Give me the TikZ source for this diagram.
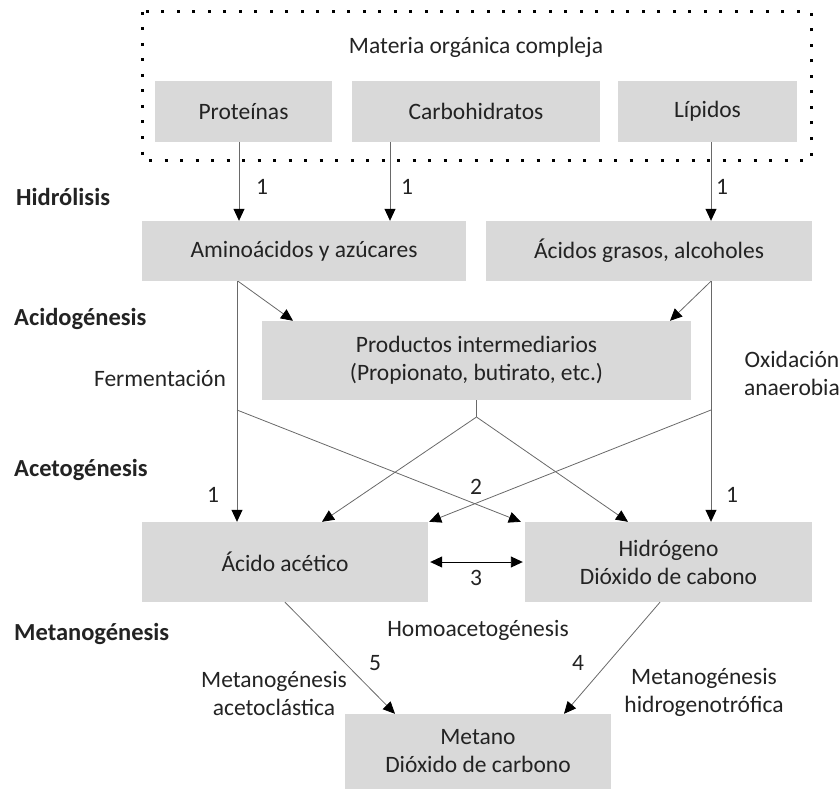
\documentclass[tikz,border=0pt]{standalone}
\usepackage{fontspec}
\setmainfont{Carlito}
\usepackage{xcolor}
\usepackage{tikz}
\usetikzlibrary{arrows.meta}
\usetikzlibrary{positioning}
\definecolor{cajagris}{RGB}{217,217,217}
\definecolor{gristrazo}{RGB}{105,105,105}
\definecolor{texto}{RGB}{35,35,35}

\begin{document}
\begin{tikzpicture}[x=1pt, y=-1pt,
		every node/.style={text=texto, inner sep=0pt, font=\fontsize{23.5}{28}\selectfont},
		caja/.style={fill=cajagris, align=center, minimum height=61},
		etapa/.style={anchor=west, font=\fontsize{24.5}{28}\selectfont\bfseries},
		trazo/.style={draw=gristrazo, line width=0.8pt},
		flecha/.style={draw=gristrazo, line width=0.8pt, -{Triangle[length=12pt, width=11pt, black]}},
		puntos/.style={line width=3pt, dash pattern=on 3pt off 12.5pt}]
	\useasboundingbox (0,0) rectangle (840,789);
	\draw[puntos] (142,12) rectangle (811,160);
	\node (materia) at (476,47) {Materia orgánica compleja};
	\node[caja, minimum width=177] (prot) at (243.5,111.5) {Proteínas};
	\node[caja, minimum width=248] (carb) at (476,111.5) {Carbohidratos};
	\node[caja, minimum width=179] (lip) at (707.5,111.5) {Lípidos};
	\node[caja, minimum width=324, minimum height=60] (amino) at (304,251) {Aminoácidos y azúcares};
	\node[caja, minimum width=326, minimum height=60] (grasos) at (649,251) {Ácidos grasos, alcoholes};
	\node[caja, minimum width=429, minimum height=79] (prod) at (476.5,360.5) {Productos intermediarios\\(Propionato, butirato, etc.)};
	\node[caja, minimum width=286, minimum height=80] (acet) at (285,562) {Ácido acético};
	\node[caja, minimum width=287, minimum height=80] (hidr) at (668.5,562) {Hidrógeno\\Dióxido de cabono};
	\node[caja, minimum width=266, minimum height=75] (metano) at (478,751.5) {Metano\\Dióxido de carbono};
	
	\node[etapa] (hidrolisis) at (16,197) {Hidrólisis};
	\node[etapa] (acidog) at (14,319) {Acidogénesis};
	\node[etapa] (acetog) at (14,470) {Acetogénesis};
	\node[etapa] (metanog) at (14,634) {Metanogénesis};
	
	\node (ferm) at (160,378) {Fermentación};
	\node[align=center] (oxid) at (792,373) {Oxidación\\anaerobia};
	\node (homo) at (478,630) {Homoacetogénesis};
	\node[align=center] (macet) at (274,693) {Metanogénesis\\acetoclástica};
	\node[align=center] (mhidr) at (704,692) {Metanogénesis\\hidrogenotrófica};
	
	\foreach \x/\y/\n[count=\i] in {262/187/1, 407/187/1, 722/187/1, 213/495/1, 732/495/1, 476/487/2, 476/578/3, 578/663/4, 375/663/5}
	{
		\node (num\i) at (\x,\y) {\n};
	}
	
	\draw[flecha] ([xshift=-4.5]prot.south) -- ([xshift=-4.5]prot.south |- amino.north);
	\draw[flecha] ([xshift=-86]carb.south) -- ([xshift=-86]carb.south |- amino.north);
	\draw[flecha] ([xshift=3.5]lip.south) -- ([xshift=3.5]lip.south |- grasos.north);
	\draw[flecha] ([xshift=-66]amino.south) -- ([xshift=-183.5]prod.north);
	\draw[flecha] ([xshift=62]grasos.south) -- ([xshift=193.5]prod.north);
	\draw[flecha] ([xshift=-67]amino.south) -- ([xshift=-67]amino.south |- acet.north);
	\draw[flecha] ([xshift=62]grasos.south) -- ([xshift=62]grasos.south |- hidr.north);
	\coordinate (cruceI) at (237,410);
	\coordinate (cruceD) at (711,410);
	\coordinate (ramal) at (476.5,417);
	\draw[trazo] (prod.south) -- (ramal);
	\draw[flecha] (ramal) -- ([xshift=37]acet.north);
	\draw[flecha] (ramal) -- ([xshift=-40.5]hidr.north);
	\draw[flecha] (cruceI) -- ([xshift=-4]hidr.north west);
	\draw[flecha] (cruceD) -- ([xshift=1]acet.north east);
	\draw[line width=0.9pt, {Triangle[length=12pt, width=11pt]}-{Triangle[length=12pt, width=11pt]}] ([xshift=2]acet.east) -- ([xshift=-2]hidr.west);
	\draw[flecha] (acet.south) -- ([xshift=-83]metano.north);
	\draw[flecha] ([xshift=-8.5]hidr.south) -- ([xshift=86]metano.north);
\end{tikzpicture}
\end{document}
